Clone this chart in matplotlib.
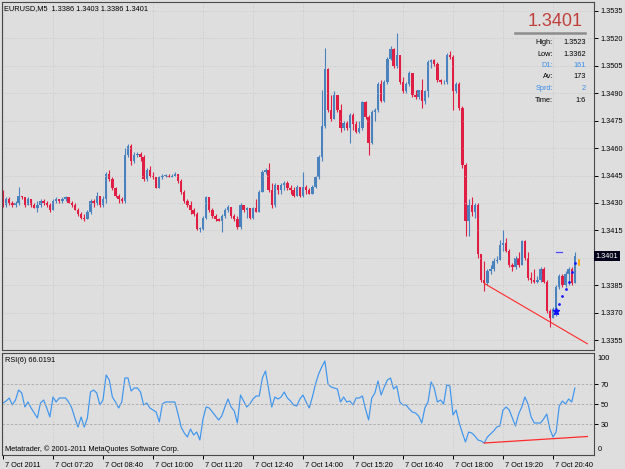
import numpy as np
import matplotlib.pyplot as plt
from matplotlib import transforms
from matplotlib.lines import Line2D

plt.rcParams['font.family'] = ['Liberation Sans', 'DejaVu Sans']

# EURUSD M5, 7 Oct 2011 06:00 .. 21:15
first_open = 1.3435
close = [1.3429, 1.3432, 1.3430, 1.3429, 1.3430, 1.3434, 1.3433, 1.3429, 1.3432, 1.3429,
         1.3427, 1.3429, 1.3431, 1.3430, 1.3429, 1.3426, 1.3431, 1.3432, 1.3431, 1.3432,
         1.3433, 1.3430, 1.3429, 1.3426, 1.3424, 1.3422, 1.3421, 1.3425, 1.3431, 1.3430,
         1.3434, 1.3429, 1.3432, 1.3446, 1.3443, 1.3438, 1.3434, 1.3432, 1.3431, 1.3456,
         1.3461, 1.3453, 1.3456, 1.3457, 1.3455, 1.3443, 1.3448, 1.3445, 1.3444, 1.3438,
         1.3444, 1.3445, 1.3445, 1.3444, 1.3445, 1.3446, 1.3442, 1.3436, 1.3431, 1.3429,
         1.3426, 1.3424, 1.3416, 1.3416, 1.3422, 1.3433, 1.3426, 1.3423, 1.3421, 1.3420,
         1.3423, 1.3426, 1.3428, 1.3423, 1.3421, 1.3417, 1.3429, 1.3426, 1.3427, 1.3422,
         1.3427, 1.3425, 1.3436, 1.3447, 1.3448, 1.3437, 1.3429, 1.3440, 1.3437, 1.3440,
         1.3441, 1.3438, 1.3437, 1.3434, 1.3439, 1.3434, 1.3439, 1.3437, 1.3435, 1.3439,
         1.3444, 1.3455, 1.3472, 1.3503, 1.3481, 1.3476, 1.3489, 1.3481, 1.3471, 1.3474,
         1.3471, 1.3478, 1.3473, 1.3469, 1.3471, 1.3485, 1.3477, 1.3463, 1.3480, 1.3481,
         1.3495, 1.3486, 1.3496, 1.3509, 1.3514, 1.3505, 1.3511, 1.3496, 1.3491, 1.3495,
         1.3501, 1.3489, 1.3488, 1.3492, 1.3486, 1.3491, 1.3507, 1.3508, 1.3506, 1.3497,
         1.3496, 1.3496, 1.3511, 1.3510, 1.3491, 1.3495, 1.3482, 1.3451, 1.3420, 1.3429,
         1.3425, 1.3429, 1.3402, 1.3388, 1.3386, 1.3393, 1.3394, 1.3398, 1.3399, 1.3407,
         1.3408, 1.3404, 1.3396, 1.3395, 1.3400, 1.3396, 1.3409, 1.3400, 1.3389, 1.3388,
         1.3387, 1.3388, 1.3394, 1.3387, 1.3371, 1.3367, 1.3372, 1.3384, 1.3390, 1.3385,
         1.3391, 1.3394, 1.3386, 1.3401]
high = [1.3437, 1.3433, 1.3433, 1.3431, 1.3431, 1.3439, 1.3434, 1.3433, 1.3433, 1.3432,
        1.3430, 1.3431, 1.3432, 1.3432, 1.3431, 1.3430, 1.3432, 1.3433, 1.3432, 1.3433,
        1.3434, 1.3433, 1.3431, 1.3430, 1.3427, 1.3425, 1.3424, 1.3426, 1.3432, 1.3432,
        1.3436, 1.3434, 1.3434, 1.3447, 1.3448, 1.3444, 1.3439, 1.3435, 1.3433, 1.3460,
        1.3462, 1.3462, 1.3458, 1.3458, 1.3458, 1.3456, 1.3449, 1.3450, 1.3447, 1.3444,
        1.3445, 1.3446, 1.3446, 1.3446, 1.3446, 1.3447, 1.3446, 1.3443, 1.3437, 1.3432,
        1.3431, 1.3427, 1.3425, 1.3417, 1.3423, 1.3434, 1.3433, 1.3427, 1.3424, 1.3422,
        1.3424, 1.3427, 1.3429, 1.3428, 1.3424, 1.3423, 1.3430, 1.3429, 1.3428, 1.3427,
        1.3428, 1.3432, 1.3437, 1.3448, 1.3449, 1.3452, 1.3441, 1.3441, 1.3439, 1.3441,
        1.3442, 1.3442, 1.3440, 1.3439, 1.3440, 1.3439, 1.3447, 1.3440, 1.3438, 1.3440,
        1.3445, 1.3456, 1.3492, 1.3515, 1.3504, 1.3489, 1.3491, 1.3489, 1.3484, 1.3475,
        1.3475, 1.3479, 1.3479, 1.3475, 1.3475, 1.3486, 1.3486, 1.3478, 1.3481, 1.3482,
        1.3496, 1.3497, 1.3497, 1.3510, 1.3516, 1.3515, 1.3523, 1.3511, 1.3499, 1.3496,
        1.3502, 1.3501, 1.3492, 1.3492, 1.3498, 1.3492, 1.3508, 1.3509, 1.3509, 1.3507,
        1.3498, 1.3497, 1.3512, 1.3513, 1.3511, 1.3496, 1.3496, 1.3483, 1.3452, 1.3432,
        1.3433, 1.3430, 1.3430, 1.3402, 1.3398, 1.3394, 1.3396, 1.3400, 1.3401, 1.3410,
        1.3415, 1.3411, 1.3405, 1.3397, 1.3401, 1.3403, 1.3410, 1.3410, 1.3403, 1.3392,
        1.3394, 1.3390, 1.3395, 1.3395, 1.3388, 1.3372, 1.3373, 1.3385, 1.3391, 1.3391,
        1.3393, 1.3395, 1.3395, 1.3403]
low = [1.3428, 1.3428, 1.3429, 1.3428, 1.3428, 1.3429, 1.3432, 1.3428, 1.3429, 1.3428,
       1.3427, 1.3425, 1.3428, 1.3429, 1.3428, 1.3425, 1.3426, 1.3430, 1.3430, 1.3430,
       1.3431, 1.3430, 1.3428, 1.3426, 1.3423, 1.3421, 1.3420, 1.3421, 1.3424, 1.3428,
       1.3429, 1.3428, 1.3428, 1.3430, 1.3442, 1.3437, 1.3433, 1.3430, 1.3430, 1.3430,
       1.3455, 1.3451, 1.3452, 1.3455, 1.3453, 1.3442, 1.3442, 1.3444, 1.3443, 1.3438,
       1.3438, 1.3443, 1.3444, 1.3444, 1.3444, 1.3445, 1.3441, 1.3435, 1.3430, 1.3428,
       1.3424, 1.3423, 1.3415, 1.3414, 1.3415, 1.3421, 1.3425, 1.3422, 1.3420, 1.3420,
       1.3414, 1.3422, 1.3425, 1.3422, 1.3420, 1.3416, 1.3416, 1.3425, 1.3422, 1.3421,
       1.3421, 1.3425, 1.3425, 1.3436, 1.3446, 1.3436, 1.3427, 1.3428, 1.3435, 1.3435,
       1.3437, 1.3437, 1.3435, 1.3433, 1.3434, 1.3433, 1.3433, 1.3435, 1.3435, 1.3435,
       1.3438, 1.3443, 1.3453, 1.3471, 1.3480, 1.3475, 1.3476, 1.3480, 1.3469, 1.3470,
       1.3470, 1.3463, 1.3470, 1.3468, 1.3468, 1.3470, 1.3476, 1.3456, 1.3462, 1.3475,
       1.3480, 1.3485, 1.3485, 1.3495, 1.3508, 1.3504, 1.3504, 1.3495, 1.3490, 1.3490,
       1.3494, 1.3488, 1.3487, 1.3487, 1.3482, 1.3484, 1.3488, 1.3504, 1.3505, 1.3496,
       1.3495, 1.3495, 1.3495, 1.3509, 1.3481, 1.3490, 1.3481, 1.3449, 1.3412, 1.3412,
       1.3423, 1.3422, 1.3400, 1.3387, 1.3382, 1.3385, 1.3391, 1.3393, 1.3397, 1.3399,
       1.3404, 1.3403, 1.3395, 1.3393, 1.3394, 1.3395, 1.3396, 1.3399, 1.3388, 1.3386,
       1.3386, 1.3386, 1.3387, 1.3386, 1.3370, 1.3362, 1.3367, 1.3368, 1.3383, 1.3384,
       1.3384, 1.3385, 1.3385, 1.3386]
rsi = [51, 53, 56, 49, 54, 64, 61, 47, 52, 46,
       41, 36, 51, 54, 46, 37, 57, 52, 56, 56,
       56, 52, 46, 36, 27, 37, 27, 36, 62, 64,
       61, 49, 54, 79, 74, 57, 52, 46, 52, 76,
       76, 63, 66, 66, 62, 49, 51, 46, 44, 42,
       32, 50, 52, 52, 52, 52, 40, 27, 21, 17,
       25, 19, 22, 14, 35, 47, 46, 42, 38, 34,
       38, 47, 55, 47, 43, 31, 59, 53, 47, 50,
       55, 58, 58, 76, 83, 65, 47, 57, 55, 57,
       62, 56, 53, 49, 48, 55, 59, 52, 46, 57,
       70, 80, 87, 93, 70, 67, 66, 65, 52, 57,
       52, 53, 49, 56, 56, 58, 45, 34, 56, 61,
       73, 59, 67, 74, 76, 65, 68, 52, 49, 49,
       45, 42, 41, 38, 31, 46, 52, 72, 66, 52,
       54, 50, 69, 68, 39, 44, 31, 21, 12, 22,
       21, 18, 14, 13, 11, 17, 20, 23, 27, 28,
       44, 47, 44, 36, 28, 40, 47, 57, 50, 37,
       31, 31, 31, 35, 40, 25, 17, 22, 48, 53,
       50, 55, 52, 66.0191]

price_ticks = [1.3535, 1.3520, 1.3505, 1.3490, 1.3475, 1.3460, 1.3445,
               1.3430, 1.3415, 1.3400, 1.3385, 1.3370, 1.3355]
rsi_levels = [70, 50, 30]
time_ticks = [0, 16, 32, 48, 64, 80, 96, 112, 128, 144, 160, 176]
time_labels = ['7 Oct 2011', '7 Oct 07:20', '7 Oct 08:40', '7 Oct 10:00',
               '7 Oct 11:20', '7 Oct 12:40', '7 Oct 14:00', '7 Oct 15:20',
               '7 Oct 16:40', '7 Oct 18:00', '7 Oct 19:20', '7 Oct 20:40']

# drawn objects
trend_x = [154, 187]
trend_price = [1.3386, 1.3353]
rsi_trend = [11, 17.5]
dots_x = [177, 178, 179, 180, 181, 182, 183]
dots_price = [1.3370, 1.3375, 1.3379, 1.3383, 1.3387, 1.3392, 1.3397]

bg = '#dedede'
bull = '#4a82be'
bear = '#e01e44'
fs = 5.3

W, H = 625.0, 469.0
def px_box(x0, y0, x1, y1):
    return [x0 / W, 1 - y1 / H, (x1 - x0) / W, (y1 - y0) / H]

fig = plt.figure(figsize=(6.25, 4.69), dpi=100)
fig.patch.set_facecolor(bg)
ax = fig.add_axes(px_box(2, 2, 594, 350))
ax2 = fig.add_axes(px_box(2, 353, 594, 455))

x = np.arange(len(close))
c = np.array(close)
o = np.array([first_open] + close[:-1])
col = np.where(c >= o, bull, bear)
ax.vlines(x, low, high, colors=col, lw=0.8)
ax.bar(x, np.maximum(np.abs(c - o), 0.00002), bottom=np.minimum(o, c),
       width=0.78, color=col, lw=0)

ax.plot(trend_x, trend_price, color='#ff2a2a', lw=0.8)
ax.plot(dots_x, dots_price, ls='', marker='.', ms=2, color='#1a1aff')
ax.plot(177, 1.3371, marker='*', ms=5, color='#1010ff')
ax.plot([177, 179], [1.3403, 1.3403], color='#4a4aff', lw=0.9)
ax.plot([184.3, 184.3], [1.3396, 1.3399], color='#ffa500', lw=1.3)

ax.set_facecolor(bg)
ax.set_xlim(-0.32, 189.12)
ax.set_ylim(1.33496, 1.35399)
ax.yaxis.tick_right()
ax.set_yticks(price_ticks, ['' if abs(v - 1.34) < 1e-6 else '%.4f' % v for v in price_ticks])
ax.tick_params(axis='y', direction='out', length=3, width=0.7, pad=1.5, labelsize=fs)
ax.set_xticks(time_ticks)
ax.tick_params(axis='x', length=0, labelbottom=False)
ax.grid(True, color='#c2c2c2', ls=(0, (1, 2)), lw=0.6)
for s in ax.spines.values():
    s.set_color('#4a4a4a')
    s.set_linewidth(0.8)

tr = transforms.blended_transform_factory(ax.transAxes, ax.transData)
ax.text(1.003, 1.3401, '1.3401', transform=tr, ha='left', va='center', fontsize=fs,
        color='white', bbox=dict(boxstyle='square,pad=0.2', fc='#000018', ec='none'))

# RSI window
ax2.set_facecolor(bg)
ax2.plot(x, rsi, color='#3d95ee', lw=0.85)
ax2.plot(trend_x, rsi_trend, color='#ff2a2a', lw=0.9)
for lv in rsi_levels:
    ax2.axhline(lv, color='#a9a9a9', ls=(0, (3, 2)), lw=0.6)
ax2.set_xlim(-0.32, 189.12)
ax2.set_ylim(-1, 101)
ax2.yaxis.tick_right()
ax2.set_yticks(rsi_levels, [str(v) for v in rsi_levels])
ax2.tick_params(axis='y', direction='out', length=3, width=0.7, pad=1.5, labelsize=fs)
tr2 = transforms.blended_transform_factory(ax2.transAxes, ax2.transData)
ax2.text(1.0065, 96, '100', transform=tr2, ha='left', va='center', fontsize=fs)
ax2.text(1.0065, 5, '0', transform=tr2, ha='left', va='center', fontsize=fs)
ax2.set_xticks(time_ticks, time_labels, ha='left')
ax2.tick_params(axis='x', direction='out', length=3, width=0.7, pad=2, labelsize=fs)
shift = transforms.ScaledTranslation(2 / 100, 0, fig.dpi_scale_trans)
for lab in ax2.get_xticklabels():
    lab.set_transform(lab.get_transform() + shift)
ax2.grid(axis='x', color='#c2c2c2', ls=(0, (1, 2)), lw=0.6)
for s in ax2.spines.values():
    s.set_color('#4a4a4a')
    s.set_linewidth(0.8)

fig.text(4 / W, 1 - 9 / H, 'EURUSD,M5  1.3386 1.3403 1.3386 1.3401', fontsize=fs, va='center')
fig.text(5 / W, 1 - 361 / H, 'RSI(6) 66.0191', fontsize=fs, va='center')
fig.text(5 / W, 1 - 449 / H, 'Metatrader, \u00a9 2001-2011 MetaQuotes Software Corp.', fontsize=fs, va='center')

# info box
fig.text(583 / W, 1 - 22 / H, '1.3401', fontsize=13, color='#c0403c', ha='right', va='center')
fig.add_artist(Line2D([515 / W, 585 / W], [1 - 33 / H, 1 - 33 / H], color='#8c8c8c', lw=1.8))
info_names = ['High:', 'Low:', 'D1:', 'Av:', 'Sprd:', 'Time:']
info_values = ['1.3523', '1.3362', '161', '173', '2', '1:6']
info_rows = [43, 54, 65, 77, 89, 100]
info_colors = ['black', 'black', '#3b8ee8', 'black', '#3b8ee8', 'black']
for name, val, yy, cc in zip(info_names, info_values, info_rows, info_colors):
    fig.text(553 / W, 1 - yy / H, name, fontsize=fs, color=cc, ha='right', va='center')
    fig.text(586 / W, 1 - yy / H, val, fontsize=fs, color=cc, ha='right', va='center')

fig.savefig('out.png', dpi=100, facecolor=fig.get_facecolor())
